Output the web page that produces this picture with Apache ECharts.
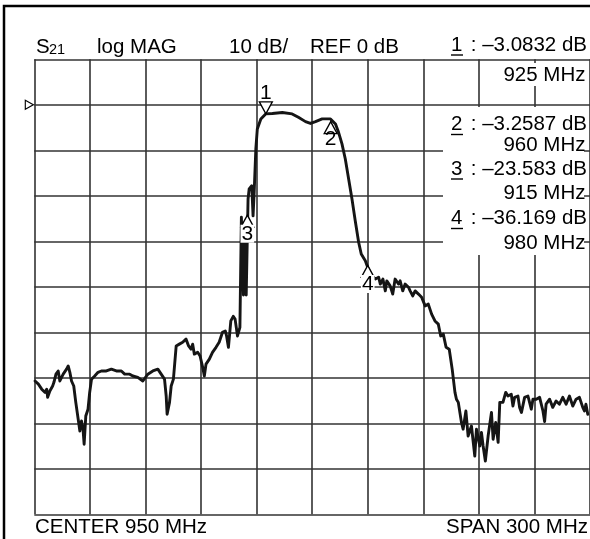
<!DOCTYPE html>
<html><head><meta charset="utf-8">
<script src="https://cdn.jsdelivr.net/npm/echarts@6/dist/echarts.min.js"></script>
<style>html,body{margin:0;padding:0;background:#fff;}#c{width:590px;height:539px;}</style>
</head><body><div id="c"></div>
<script>
// ---- data ----
const CENTER_MHZ = 950;
const SPAN_MHZ = 300;
const REF_LEVEL_DB = 0;
const DB_PER_DIV = 10;
const freqMHz = [800.4,802.2,804.0,804.8,805.8,806.7,807.2,808.4,809.9,810.6,
811.7,812.9,813.8,814.7,815.6,817.4,818.3,819.2,820.1,821.3,
822.4,823.7,824.6,825.5,826.3,826.9,827.8,829.0,829.9,830.9,
832.6,834.4,836.2,838.9,841.6,844.3,847.0,848.8,851.5,853.2,
855.9,858.6,861.3,864.0,866.7,868.5,870.3,871.2,871.7,873.0,
873.9,875.1,876.6,878.3,880.1,881.9,883.3,884.6,885.5,886.4,
888.2,889.5,890.9,891.8,892.7,894.5,896.2,898.1,899.8,901.6,
903.1,903.8,904.8,906.1,907.4,908.4,909.7,911.0,911.8,912.9,
913.8,914.4,915.4,916.0,917.4,918.1,918.7,919.6,920.4,
922.3,924.9,928.5,933.9,939.2,942.8,946.4,949.1,951.8,955.4,
959.9,962.6,964.3,966.1,967.9,969.7,971.5,973.3,975.1,976.5,
978.7,980.5,982.3,984.1,985.9,986.8,988.2,989.5,990.3,992.1,
993.5,994.8,996.6,997.5,998.9,1000.2,1002.0,1002.9,1004.3,1005.6,
1007.4,1009.1,1011.0,1012.7,1014.5,1016.3,1018.1,1019.4,1020.8,1022.3,
1024.0,1025.6,1027.1,1027.9,1028.9,1029.8,1030.6,1031.5,1033.0,1034.2,
1036.0,1037.8,1038.7,1040.5,1041.4,1042.3,1043.5,1045.0,1046.8,1047.7,
1049.1,1050.4,1051.3,1053.0,1054.5,1055.7,1057.5,1058.4,1059.3,1061.1,
1062.0,1063.0,1064.7,1066.5,1068.3,1069.2,1070.1,1071.0,1071.9,1072.8,
1074.6,1075.5,1076.3,1078.2,1079.9,1081.7,1083.5,1085.3,1087.1,1088.9,
1090.7,1092.5,1094.3,1096.1,1097.0,1097.8,1098.8];
const s21dB = [-60.7,-61.4,-62.5,-62.1,-63.2,-62.5,-64.3,-62.9,-61.8,-61.0,
-59.2,-58.5,-60.7,-60.3,-59.2,-58.1,-57.4,-58.8,-60.7,-61.8,
-65.4,-69.1,-71.7,-69.5,-71.3,-74.6,-68.4,-66.9,-63.2,-60.3,
-59.6,-58.8,-58.5,-58.5,-58.1,-58.5,-58.5,-59.2,-59.2,-59.6,
-59.9,-60.7,-59.2,-58.5,-58.1,-59.2,-60.3,-64.0,-68.0,-65.4,
-61.8,-60.3,-53.0,-52.6,-52.2,-51.5,-53.0,-53.7,-52.6,-54.8,
-54.4,-55.2,-57.7,-59.6,-57.0,-55.9,-54.4,-53.3,-52.2,-50.0,
-49.7,-50.8,-53.3,-47.5,-46.5,-47.1,-50.8,-48.9,-24.7,-41.8,
-27.3,-41.8,-20.7,-18.5,-17.8,-24.4,-19.2,-9.7,-5.3,
-3.1,-2.0,-1.9,-1.7,-2.0,-2.8,-3.7,-4.1,-3.7,-3.1,
-3.1,-4.2,-6.1,-8.6,-11.9,-16.3,-20.7,-25.6,-30.2,-32.8,
-34.3,-36.3,-37.6,-38.3,-37.9,-39.4,-38.3,-40.9,-38.7,-39.8,
-41.6,-38.3,-39.4,-38.7,-40.9,-39.4,-40.1,-40.9,-42.0,-40.9,
-41.6,-42.3,-44.2,-43.8,-46.0,-47.5,-48.2,-50.8,-50.4,-53.3,
-53.7,-58.1,-63.2,-64.7,-65.4,-65.8,-69.8,-71.3,-67.3,-72.8,
-70.6,-77.2,-71.3,-75.0,-72.0,-75.0,-78.3,-72.8,-67.6,-73.5,
-69.8,-74.2,-65.4,-65.4,-63.2,-64.0,-63.6,-66.2,-64.3,-64.0,
-66.5,-67.6,-64.3,-64.0,-66.9,-64.7,-65.1,-64.7,-65.1,-64.3,
-67.3,-69.6,-65.8,-64.7,-66.5,-65.1,-65.8,-64.3,-65.8,-64.0,
-66.2,-64.7,-64.3,-66.5,-67.3,-65.8,-68.0];
const markerNames = ['1', '2', '3', '4'];
const markerFreqMHz = [925, 960, 915, 980];
const markerDb = [-3.0832, -3.2587, -23.583, -36.169];
const headerTexts = ['log MAG', '10 dB/', 'REF 0 dB'];
const footerLeft = 'CENTER 950 MHz';
const footerRight = 'SPAN 300 MHz';

// ---- chart ----
const FONT = '"Liberation Sans", Arial, Helvetica, sans-serif';
const chart = echarts.init(document.getElementById('c'), null, {renderer: 'canvas'});
const trace = freqMHz.map((f, i) => [f - CENTER_MHZ, s21dB[i]]);
const half = SPAN_MHZ / 2;

const markerStyle = [
  {symbol: 'path://M0,0L10,0L5,10Z', offset: [0, -11], pos: 'top', dist: -1, bg: 'transparent'},
  {symbol: 'triangle', offset: [0, 8], pos: 'bottom', dist: -4, bg: 'transparent'},
  {symbol: 'triangle', offset: [0, 9], pos: 'bottom', dist: -3, bg: '#fff'},
  {symbol: 'triangle', offset: [0, 2], pos: 'bottom', dist: -3, bg: '#fff'}
];
const markerData = markerNames.map((n, i) => ({
  value: [markerFreqMHz[i] - CENTER_MHZ, markerDb[i]],
  symbol: markerStyle[i].symbol,
  symbolOffset: markerStyle[i].offset,
  label: {
    show: true, formatter: n, position: markerStyle[i].pos, distance: markerStyle[i].dist,
    fontSize: 21, fontFamily: FONT, color: '#000', opacity: 1,
    backgroundColor: markerStyle[i].bg, padding: [0, 1, 0, 1], lineHeight: 18
  }
}));

const axisCommon = {
  type: 'value',
  axisLine: {show: false}, axisTick: {show: false}, axisLabel: {show: false},
  splitLine: {show: true, lineStyle: {color: '#333', width: 1.6}}
};

const txt = (text, x, y, align, size) => ({
  type: 'text', z: 20, x: x, y: y,
  style: {text: text, fill: '#000', font: (size || 20.5) + 'px ' + FONT, textAlign: align || 'left', textVerticalAlign: 'middle'}
});
const uline = (x1, x2, y) => ({
  type: 'line', z: 20, shape: {x1: x1, y1: y, x2: x2, y2: y}, style: {stroke: '#000', lineWidth: 1.4}
});

const readoutY = [[45, 75], [124.5, 145.5], [169, 193.3], [218.5, 243]];
const graphics = [
  {type: 'rect', z: 15, shape: {x: 443, y: 107, width: 141, height: 148}, style: {fill: '#fff'}},
  {type: 'rect', z: 15, shape: {x: 503, y: 63, width: 84, height: 23}, style: {fill: '#fff'}},
  {type: 'rect', z: 25, shape: {x: 4, y: 6, width: 700, height: 700}, style: {fill: 'none', stroke: '#000', lineWidth: 2.5}},
  txt('S', 36, 47, 'left', 20.5),
  txt('21', 49, 49.5, 'left', 14.5),
  txt(headerTexts[0], 97, 47),
  txt(headerTexts[1], 229, 47),
  txt(headerTexts[2], 310, 47),
  txt(footerLeft, 35, 527),
  txt(footerRight, 588, 527, 'right')
];
markerNames.forEach((n, i) => {
  const dbStr = markerDb[i].toFixed(4).replace('-', '').slice(0, 6);
  graphics.push(txt(n, 451, readoutY[i][0], 'left'));
  graphics.push(txt(': \u2013' + dbStr + ' dB', 587, readoutY[i][0], 'right'));
  graphics.push(uline(451, 463, readoutY[i][0] + 10));
  graphics.push(txt(markerFreqMHz[i] + ' MHz', 585.5, readoutY[i][1], 'right'));
});

chart.setOption({
  animation: false,
  backgroundColor: '#fff',
  grid: {left: 34.3, top: 59.3, width: 558, height: 455},
  xAxis: Object.assign({min: -half, max: half, interval: SPAN_MHZ / 10}, axisCommon),
  yAxis: Object.assign({min: REF_LEVEL_DB - 9 * DB_PER_DIV, max: REF_LEVEL_DB + DB_PER_DIV, interval: DB_PER_DIV}, axisCommon),
  series: [
    {type: 'line', data: trace, symbol: 'none', z: 3,
     lineStyle: {color: '#151515', width: 2.9, join: 'round', cap: 'round'}},
    {type: 'scatter', data: markerData, symbolSize: [13, 12], z: 6,
     itemStyle: {color: '#fff', borderColor: '#000', borderWidth: 1.3, opacity: 1}},
    {type: 'scatter', data: [[-half, REF_LEVEL_DB]], clip: false, z: 6,
     symbol: 'path://M0,0L10,5L0,10Z', symbolSize: [8, 9], symbolOffset: [-5, 0],
     itemStyle: {color: '#fff', borderColor: '#000', borderWidth: 1.2, opacity: 1}}
  ],
  graphic: graphics
});
</script>
</body></html>
